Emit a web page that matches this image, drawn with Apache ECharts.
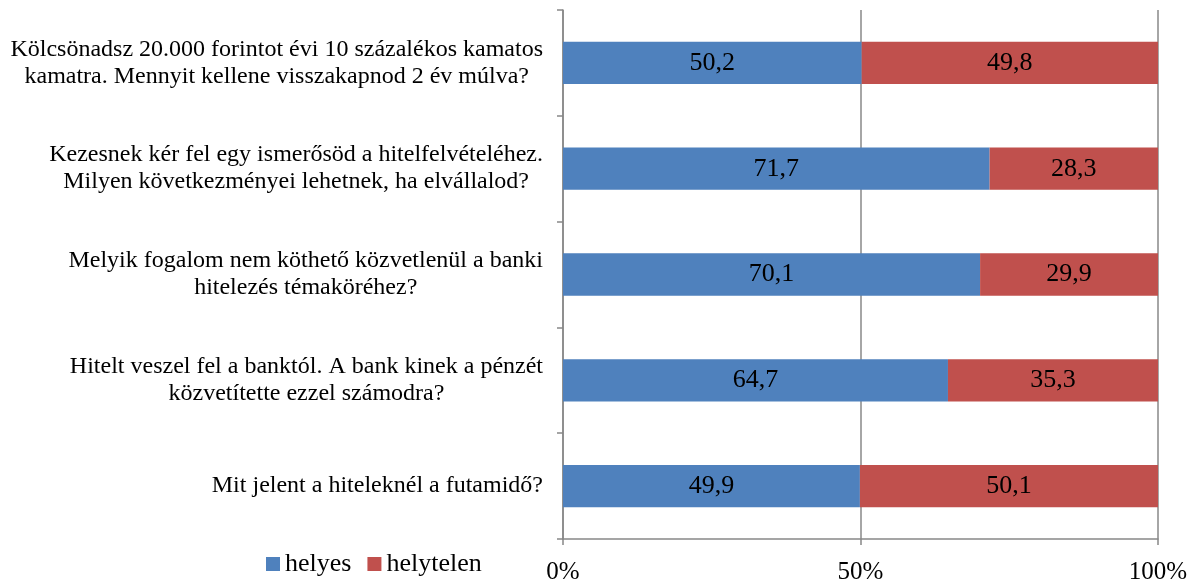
<!DOCTYPE html>
<html><head><meta charset="utf-8">
<script src="https://cdn.jsdelivr.net/npm/echarts@6/dist/echarts.min.js"></script>
<style>html,body{margin:0;padding:0;background:#fff}#c{width:1195px;height:585px}</style>
</head><body><div id="c"></div>
<script>
const categories = [
  "Kölcsönadsz 20.000 forintot évi 10 százalékos kamatos\nkamatra. Mennyit kellene visszakapnod 2 év múlva?",
  "Kezesnek kér fel egy ismerősöd a hitelfelvételéhez.\nMilyen következményei lehetnek, ha elvállalod?",
  "Melyik fogalom nem köthető közvetlenül a banki\nhitelezés témaköréhez?",
  "Hitelt veszel fel a banktól. A bank kinek a pénzét\nközvetítette ezzel számodra?",
  "Mit jelent a hiteleknél a futamidő?"
];
const helyes = [50.2, 71.7, 70.1, 64.7, 49.9];
const helytelen = [49.8, 28.3, 29.9, 35.3, 50.1];
const seriesNames = ["helyes", "helytelen"];
const xTicks = [0, 50, 100];

const font = "'Liberation Serif','Times New Roman',serif";
const chart = echarts.init(document.getElementById('c'), null, {renderer: 'canvas'});
const lbl = {show: true, position: 'inside', color: '#000', fontSize: 26, fontFamily: font,
  formatter: p => String(p.value).replace('.', ',')};
chart.setOption({
  animation: false,
  textStyle: {fontFamily: font},
  grid: {left: 563, right: 37, top: 10, bottom: 43, containLabel: false},
  legend: {left: 261, top: 546, itemWidth: 14, itemHeight: 14, itemGap: 16,
    icon: 'rect', textStyle: {fontSize: 26, fontFamily: font, color: '#000'},
    data: seriesNames},
  xAxis: {type: 'value', min: 0, max: 100, interval: 50,
    axisLine: {show: true, lineStyle: {color: '#888', width: 1.5}},
    axisTick: {show: true, length: 6, lineStyle: {color: '#888', width: 1.5}},
    splitLine: {show: true, lineStyle: {color: '#888', width: 1.5}},
    axisLabel: {fontSize: 25, fontFamily: font, color: '#000', margin: 21,
      formatter: v => xTicks.includes(v) ? v + '%' : ''}},
  yAxis: {type: 'category', data: categories, inverse: true,
    axisLine: {show: true, lineStyle: {color: '#888', width: 1.5}},
    axisTick: {show: true, length: 6, lineStyle: {color: '#888', width: 1.5}},
    axisLabel: {fontSize: 24, fontFamily: font, color: '#000', margin: 20, lineHeight: 27, align: 'right',
      formatter: v => v.split('\n').map(l => '{c|' + l + '}').join('\n'),
      rich: {c: {align: 'center', fontSize: 24, fontFamily: font, color: '#000', lineHeight: 27}}}},
  series: [
    {name: seriesNames[0], type: 'bar', stack: 's', data: helyes, barWidth: '40%',
      itemStyle: {color: '#4F81BD'}, label: lbl},
    {name: seriesNames[1], type: 'bar', stack: 's', data: helytelen, barWidth: '40%',
      itemStyle: {color: '#C0504D'}, label: lbl}
  ]
});
</script></body></html>
